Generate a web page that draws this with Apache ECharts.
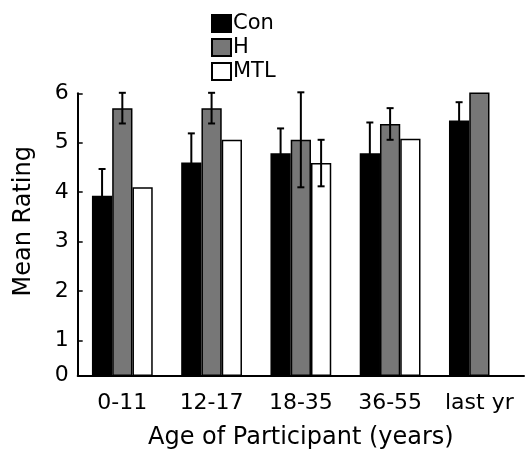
<!DOCTYPE html>
<html>
<head>
<meta charset="utf-8">
<script src="https://cdn.jsdelivr.net/npm/echarts@6/dist/echarts.min.js"></script>
<style>
html,body{margin:0;padding:0;background:#fff;}
#chart{width:526px;height:450px;}
</style>
</head>
<body>
<div id="chart"></div>
<script>
const categories = ['0-11', '12-17', '18-35', '36-55', 'last yr'];
const seriesNames = ['Con', 'H', 'MTL'];
const conValues = [3.93, 4.60, 4.79, 4.79, 5.45];
const conErrors = [0.54, 0.59, 0.50, 0.62, 0.37];
const hValues = [5.70, 5.70, 5.06, 5.38, 6.02];
const hErrors = [0.31, 0.31, 0.96, 0.32, 0];
const mtlValues = [4.10, 5.06, 4.59, 5.08, null];
const mtlErrors = [0, 0, 0.47, 0, 0];
const yTickValues = [1, 2, 3, 4, 5, 6];
const yLabelValues = [0.3, 1, 2, 3, 4, 5, 6];

const FONT = 'DejaVu Sans';
const colors = ['#000000', '#777777', '#ffffff'];
const BAR_FRAC = 0.227;

const allValues = [conValues, hValues, mtlValues];
const allErrors = [conErrors, hErrors, mtlErrors];

const errData = [];
allValues.forEach((vals, s) => {
  vals.forEach((v, i) => {
    const e = allErrors[s][i];
    if (v != null && e > 0) errData.push([i, v, e, s]);
  });
});

const chart = echarts.init(document.getElementById('chart'), null, {renderer: 'canvas'});

const barSeries = seriesNames.map((name, s) => ({
  name: name,
  type: 'bar',
  data: allValues[s],
  barWidth: (BAR_FRAC * 100) + '%',
  barGap: '0%',
  itemStyle: {color: colors[s], borderColor: '#000', borderWidth: 1.5},
  emphasis: {disabled: true},
  z: 2
}));

const errSeries = {
  type: 'custom',
  data: errData,
  z: 5,
  silent: true,
  renderItem: function (params, api) {
    const cat = api.value(0), v = api.value(1), e = api.value(2), s = api.value(3);
    const band = api.size([1, 0])[0];
    const off = (s - 1) * band * BAR_FRAC;
    const top = api.coord([cat, v + e]);
    const bot = api.coord([cat, v - e]);
    const x = top[0] + off;
    const cw = 3.5;
    const style = {stroke: '#000', lineWidth: 2};
    return {
      type: 'group',
      children: [
        {type: 'line', shape: {x1: x, y1: top[1], x2: x, y2: bot[1]}, style: style},
        {type: 'line', shape: {x1: x - cw, y1: top[1], x2: x + cw, y2: top[1]}, style: style},
        {type: 'line', shape: {x1: x - cw, y1: bot[1], x2: x + cw, y2: bot[1]}, style: style}
      ]
    };
  }
};

chart.setOption({
  animation: false,
  backgroundColor: '#fff',
  textStyle: {fontFamily: FONT, color: '#000'},
  legend: {
    data: seriesNames,
    orient: 'vertical',
    left: 211,
    top: 13,
    padding: 0,
    itemWidth: 19,
    itemHeight: 17,
    itemGap: 3,
    icon: 'rect',
    textStyle: {fontFamily: FONT, fontSize: 21, color: '#000', padding: [0, 0, 0, -3]}
  },
  grid: {left: 77.7, top: 93.3, right: 2, bottom: 74.7, containLabel: false, outerBoundsMode: 'none'},
  xAxis: {
    type: 'category',
    data: categories,
    name: 'Age of Participant (years)',
    nameLocation: 'middle',
    nameGap: 50,
    nameTextStyle: {fontFamily: FONT, fontSize: 24, color: '#000'},
    axisLine: {lineStyle: {color: '#000', width: 2}},
    axisTick: {show: false},
    axisLabel: {fontFamily: FONT, fontSize: 22, color: '#000', margin: 17, interval: 0, hideOverlap: false},
    splitLine: {show: false}
  },
  yAxis: {
    type: 'value',
    min: 0.3,
    max: 6,
    name: 'Mean Rating',
    nameLocation: 'middle',
    nameGap: 42,
    nameTextStyle: {fontFamily: FONT, fontSize: 24, color: '#000', padding: [0, 0, 0, 26]},
    axisLine: {show: true, lineStyle: {color: '#000', width: 2}},
    axisTick: {show: true, inside: true, length: 5, customValues: yTickValues, lineStyle: {color: '#000', width: 1.5}},
    axisLabel: {
      fontFamily: FONT, fontSize: 22, color: '#000', margin: 9,
      customValues: yLabelValues,
      formatter: function (v) { return v < 0.9 ? '0' : String(Math.round(v)); }
    },
    splitLine: {show: false}
  },
  series: barSeries.concat([errSeries])
});
</script>
</body>
</html>
